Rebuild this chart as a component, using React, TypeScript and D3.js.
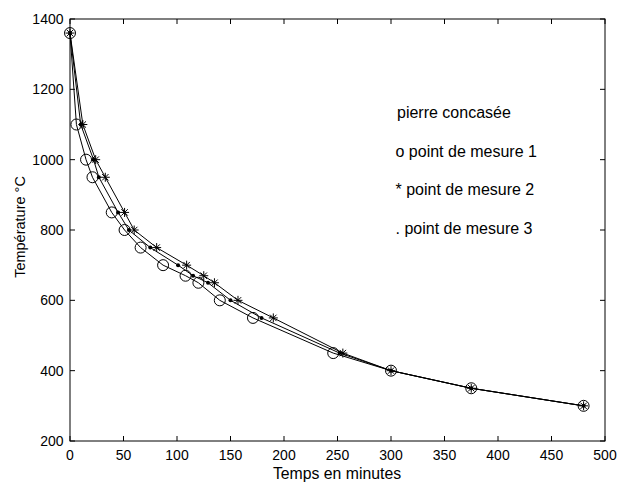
import React from "react";
import * as d3 from "d3";

const temps = [1360, 1100, 1000, 950, 850, 800, 750, 700, 670, 650, 600, 550, 450, 400, 350, 300];
const times1 = [0, 6, 15, 21, 39, 51, 66, 87, 108, 120, 140, 171, 246, 300, 375, 480];
const times2 = [0, 12, 24, 33, 51, 60, 81, 109, 125, 135, 157, 190, 255, 300, 375, 480];
const times3 = [0, 10, 22, 27, 45, 55, 75, 101, 115, 129, 150, 179, 252, 300, 375, 480];
const xTicks = [0, 50, 100, 150, 200, 250, 300, 350, 400, 450, 500];
const yTicks = [200, 400, 600, 800, 1000, 1200, 1400];
const legendLines = ["pierre concasée", "o point de mesure 1", "* point de mesure 2", ". point de mesure 3"];

const W = 619, H = 485;
const L = 70, R = 605, T = 19, B = 441;
const FONT = "'Liberation Sans', Arial, Helvetica, sans-serif";

export default function App() {
  const x = d3.scaleLinear().domain([0, 500]).range([L, R]);
  const y = d3.scaleLinear().domain([200, 1400]).range([B, T]);
  const line = d3.line<[number, number]>().x(d => x(d[0])).y(d => y(d[1]));
  const s1 = times1.map((t, i) => [t, temps[i]] as [number, number]);
  const s2 = times2.map((t, i) => [t, temps[i]] as [number, number]);
  const s3 = times3.map((t, i) => [t, temps[i]] as [number, number]);
  const tk = 5;
  const star = (cx: number, cy: number, k: string) => {
    const a = 4.5, b = 3.2;
    return (
      <g key={k} stroke="#000" strokeWidth={1}>
        <line x1={cx - a} y1={cy} x2={cx + a} y2={cy} />
        <line x1={cx} y1={cy - a} x2={cx} y2={cy + a} />
        <line x1={cx - b} y1={cy - b} x2={cx + b} y2={cy + b} />
        <line x1={cx - b} y1={cy + b} x2={cx + b} y2={cy - b} />
      </g>
    );
  };
  return (
    <svg width={W} height={H} style={{ position: "absolute", left: 0, top: 0, background: "#fff" }}>
      <rect x={0} y={0} width={W} height={H} fill="#fff" />
      <path d={line(s1) || ""} fill="none" stroke="#000" strokeWidth={1} />
      <path d={line(s2) || ""} fill="none" stroke="#000" strokeWidth={1} />
      <path d={line(s3) || ""} fill="none" stroke="#000" strokeWidth={1} />
      {s1.map((d, i) => (
        <circle key={"c" + i} cx={x(d[0])} cy={y(d[1])} r={5.5} fill="none" stroke="#000" strokeWidth={1} />
      ))}
      {s2.map((d, i) => star(x(d[0]), y(d[1]), "s" + i))}
      {s3.map((d, i) => (
        <circle key={"d" + i} cx={x(d[0])} cy={y(d[1])} r={2} fill="#000" />
      ))}
      <rect x={L} y={T} width={R - L} height={B - T} fill="none" stroke="#000" strokeWidth={1} />
      {xTicks.map(t => (
        <g key={"xt" + t}>
          <line x1={x(t)} x2={x(t)} y1={B} y2={B - tk} stroke="#000" />
          <line x1={x(t)} x2={x(t)} y1={T} y2={T + tk} stroke="#000" />
          <text x={x(t)} y={460} textAnchor="middle" fontFamily={FONT} fontSize={14} fill="#000">{t}</text>
        </g>
      ))}
      {yTicks.map(t => (
        <g key={"yt" + t}>
          <line x1={L} x2={L + tk} y1={y(t)} y2={y(t)} stroke="#000" />
          <line x1={R} x2={R - tk} y1={y(t)} y2={y(t)} stroke="#000" />
          <text x={63.5} y={y(t) + 5} textAnchor="end" fontFamily={FONT} fontSize={14} fill="#000">{t}</text>
        </g>
      ))}
      <text x={337} y={479} textAnchor="middle" fontFamily={FONT} fontSize={15.8} fill="#000">Temps en minutes</text>
      <text transform={`translate(25, 227) rotate(-90)`} textAnchor="middle" fontFamily={FONT} fontSize={14.5} fill="#000">Température °C</text>
      {legendLines.map((s, i) => (
        <text key={"lg" + i} x={i === 0 ? 397 : 395.5} y={118 + i * 38.5} fontFamily={FONT} fontSize={16} fill="#000">{s}</text>
      ))}
    </svg>
  );
}
